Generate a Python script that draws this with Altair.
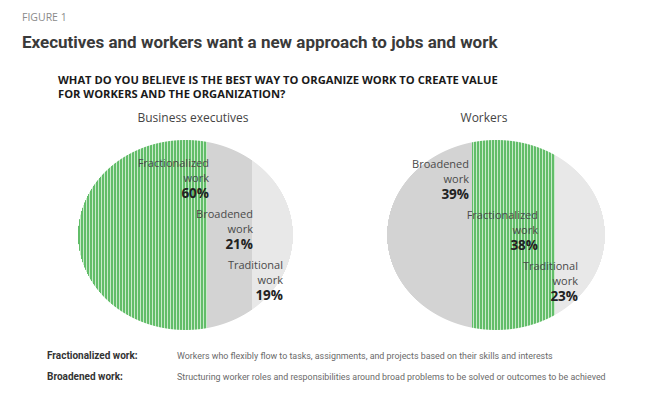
import altair as alt
import pandas as pd
import numpy as np

# ---------------- data ----------------
groups = ["Business executives", "Workers"]
exec_categories = ["Fractionalized work", "Broadened work", "Traditional work"]
exec_values = [60, 21, 19]
worker_categories = ["Broadened work", "Fractionalized work", "Traditional work"]
worker_values = [39, 38, 23]

figure_label = "FIGURE 1"
headline = "Executives and workers want a new approach to jobs and work"
question_lines = [
    "WHAT DO YOU BELIEVE IS THE BEST WAY TO ORGANIZE WORK TO CREATE VALUE",
    "FOR WORKERS AND THE ORGANIZATION?",
]
definition_terms = ["Fractionalized work:", "Broadened work:"]
definition_texts = [
    "Workers who flexibly flow to tasks, assignments, and projects based on their skills and interests",
    "Structuring worker roles and responsibilities around broad problems to be solved or outcomes to be achieved",
]

# ---------------- layout (pixels inside the chart) ----------------
W, H = 642, 377
pie_geom = {
    "Business executives": dict(cx=177.5, cy=227, rx=107.5, ry=95, title_x=185),
    "Workers": dict(cx=488, cy=227, rx=109, ry=95, title_x=476),
}
label_pos = {
    ("Business executives", "Fractionalized work"): (201, 156),
    ("Business executives", "Broadened work"): (245, 207),
    ("Business executives", "Traditional work"): (275, 258),
    ("Workers", "Broadened work"): (461, 157),
    ("Workers", "Fractionalized work"): (530, 208),
    ("Workers", "Traditional work"): (570, 259),
}

series = {
    "Business executives": (exec_categories, exec_values),
    "Workers": (worker_categories, worker_values),
}

# ---------------- build striped-column pies ----------------
rows = []
labels = []
for g in groups:
    cats, vals = series[g]
    geo = pie_geom[g]
    total = float(sum(vals))
    cum = np.cumsum(vals) / total
    n = int(round(2 * geo["rx"]))
    left = geo["cx"] - geo["rx"]
    for i in range(n):
        f = (i + 0.5) / n
        k = int(np.searchsorted(cum, f))
        k = min(k, len(cats) - 1)
        cat = cats[k]
        xc = left + i + 0.5
        t = (xc - geo["cx"]) / geo["rx"]
        h = geo["ry"] * np.sqrt(max(0.0, 1 - t * t))
        if cat == "Fractionalized work":
            shade = "green_light" if i % 3 == 2 else "green_dark"
        else:
            shade = cat
        rows.append(dict(group=g, x=xc, y=geo["cy"] - h, y2=geo["cy"] + h, shade=shade))
    for c, v in zip(cats, vals):
        lx, ly = label_pos[(g, c)]
        name = c.split(" ")[0]
        labels.append(dict(lx=lx, ly=ly, ly_work=ly + 15, ly_pct=ly + 30,
                           name=name, work="work", pct=f"{v}%"))

cols = pd.DataFrame(rows)
labs = pd.DataFrame(labels)

xs = alt.Scale(domain=[0, W], nice=False, zero=False)
ys = alt.Scale(domain=[0, H], nice=False, zero=False, reverse=True)

shade_scale = alt.Scale(
    domain=["green_dark", "green_light", "Broadened work", "Traditional work"],
    range=["#62bd69", "#c8eaca", "#d3d3d3", "#e8e8e8"],
)

pies = alt.Chart(cols).mark_rule(strokeWidth=1, strokeCap="butt").encode(
    x=alt.X("x:Q", scale=xs, axis=None),
    y=alt.Y("y:Q", scale=ys, axis=None),
    y2="y2:Q",
    color=alt.Color("shade:N", scale=shade_scale, legend=None),
)

FONT = "Open Sans"
name_layer = alt.Chart(labs).mark_text(
    align="right", baseline="middle", font=FONT, fontSize=11, color="#4a4a4a"
).encode(x=alt.X("lx:Q", scale=xs), y=alt.Y("ly:Q", scale=ys), text="name:N")
work_layer = alt.Chart(labs).mark_text(
    align="right", baseline="middle", font=FONT, fontSize=11, color="#4a4a4a"
).encode(x=alt.X("lx:Q", scale=xs), y=alt.Y("ly_work:Q", scale=ys), text="work:N")
pct_layer = alt.Chart(labs).mark_text(
    align="right", baseline="middle", font=FONT, fontSize=13.5, fontWeight="bold", color="#222222"
).encode(x=alt.X("lx:Q", scale=xs), y=alt.Y("ly_pct:Q", scale=ys), text="pct:N")


def txt(s, x, y, size, color, weight="normal", font=FONT, align="left"):
    return alt.Chart(pd.DataFrame({"t": [s]})).mark_text(
        align=align, baseline="middle", font=font, fontSize=size, fontWeight=weight, color=color
    ).encode(x=alt.value(x), y=alt.value(y), text="t:N")


texts = [
    txt(figure_label, 14, 10, 10.5, "#8a8a8a"),
    txt(headline, 14, 35, 17, "#3a3a3a", weight="bold", font="Roboto"),
    txt(question_lines[0], 50, 73, 11.2, "#1a1a1a", weight="bold"),
    txt(question_lines[1], 50, 86.5, 11.2, "#1a1a1a", weight="bold"),
]
for g in groups:
    texts.append(txt(g, pie_geom[g]["title_x"], 110, 12, "#444444", align="center"))
for i, (term, desc) in enumerate(zip(definition_terms, definition_texts)):
    yy = 348 + i * 21
    texts.append(txt(term, 39, yy, 10, "#333333", weight="bold", font="Roboto"))
    texts.append(txt(desc, 169, yy, 8.9, "#6a6a6a", font="Roboto"))

chart = alt.layer(pies, name_layer, work_layer, pct_layer, *texts).properties(
    width=W, height=H, padding=0, background="white"
).configure_view(stroke=None)

chart.save("out.html", embed_options={"renderer": "svg", "actions": False})
